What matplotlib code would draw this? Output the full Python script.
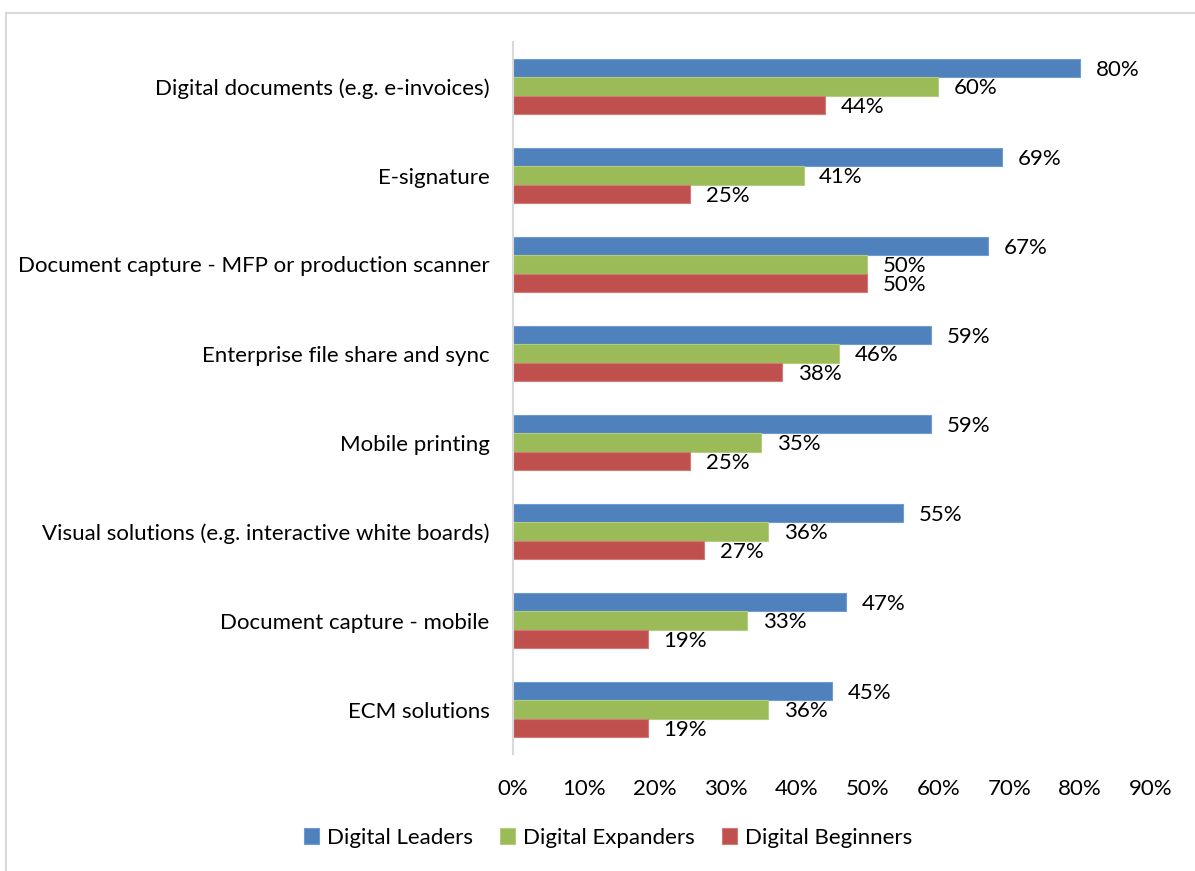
import matplotlib
matplotlib.use("Agg")
from matplotlib import pyplot as plt
from matplotlib.patches import Rectangle
from matplotlib.ticker import PercentFormatter

categories = [
    "Digital documents (e.g. e-invoices)",
    "E-signature",
    "Document capture - MFP or production scanner",
    "Enterprise file share and sync",
    "Mobile printing",
    "Visual solutions (e.g. interactive white boards)",
    "Document capture - mobile",
    "ECM solutions",
]
leaders = [80, 69, 67, 59, 59, 55, 47, 45]
expanders = [60, 41, 50, 46, 35, 36, 33, 36]
beginners = [44, 25, 50, 38, 25, 27, 19, 19]
series_names = ["Digital Leaders", "Digital Expanders", "Digital Beginners"]
x_ticks = [0, 10, 20, 30, 40, 50, 60, 70, 80, 90]

colors = ["#4F81BD", "#9BBB59", "#C0504D"]
edges = ["#6F9BD1", "#B3CC7F", "#D27A77"]

plt.rcParams['font.family'] = ['Lato', 'DejaVu Sans']
fs = 16

fig = plt.figure(figsize=(11.95, 8.71), dpi=100)
fig.patches.append(Rectangle((6 / 1195, -0.1), 1.2, (871 - 13) / 871 + 0.1,
                             transform=fig.transFigure, fill=False,
                             edgecolor="#D9D9D9", linewidth=1.5))
ax = fig.add_axes([513 / 1195, 117 / 871, 638 / 1195, 712 / 871])

h = 0.208
ypos = list(range(len(categories)))
for k, (name, vals) in enumerate(zip(series_names, [leaders, expanders, beginners])):
    y = [i + (k - 1) * h for i in ypos]
    bars = ax.barh(y, vals, height=h, color=colors[k], edgecolor=edges[k],
                   linewidth=0.8, label=name)
    for b, v in zip(bars, vals):
        ax.text(v + 2.2, b.get_y() + h / 2 + 0.02, f"{v}%", va="center", ha="left",
                fontsize=fs, color="black")

ax.set_ylim(len(categories) - 0.5, -0.5)
ax.set_xlim(0, 90)
ax.set_xticks(x_ticks)
ax.xaxis.set_major_formatter(PercentFormatter(100, decimals=0))
ax.set_yticks(ypos)
ax.set_yticklabels(categories)
ax.tick_params(axis="both", length=0, labelsize=fs)
ax.tick_params(axis="y", pad=17)
ax.tick_params(axis="x", pad=18)
for s in ["top", "right", "bottom"]:
    ax.spines[s].set_visible(False)
ax.spines["left"].set_color("#D9D9D9")
ax.spines["left"].set_linewidth(1.5)

fig.legend(loc="center", bbox_to_anchor=(608 / 1195, 1 - 838 / 871), ncol=3,
           frameon=False, fontsize=fs, handlelength=0.7, handleheight=0.7,
           handletextpad=0.35, columnspacing=1.2)

fig.savefig("out.png", dpi=100)
